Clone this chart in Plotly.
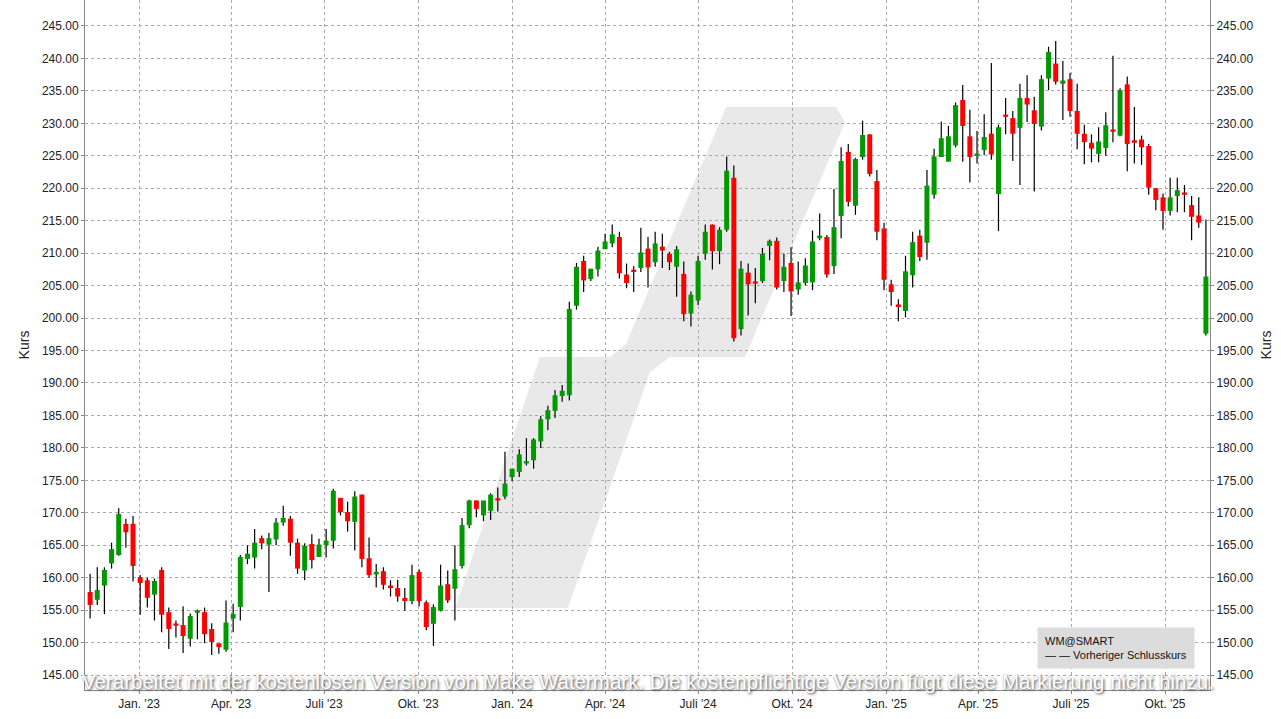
import pandas as pd
import plotly.graph_objects as go

# weekly candles (open, high, low, close)
opens = [157.8, 156.6, 158.8, 162.2, 163.5, 168.3, 168.3, 160.1, 159.6, 157.4,
         161.2, 154.7, 152.8, 152.7, 150.6, 154.6, 154.7, 152.1, 149.9, 148.9,
         153.7, 155.5, 162.9, 163.1, 166.1, 165.1, 165.9, 168.5, 169.1, 165.4,
         161.1, 165.2, 163.2, 165.0, 165.7, 172.3, 170.1, 168.6, 172.8, 163.0,
         160.5, 161.0, 158.8, 158.4, 156.9, 156.4, 160.9, 156.2, 152.9, 154.9,
         159.0, 158.3, 161.8, 168.1, 171.9, 169.6, 170.3, 172.2, 172.5, 175.5,
         176.3, 177.6, 178.1, 181.0, 184.4, 185.7, 188.0, 188.1, 201.9, 208.8,
         206.0, 207.5, 210.6, 211.5, 212.5, 206.7, 207.3, 207.7, 210.7, 208.6,
         211.0, 209.9, 207.9, 206.8, 200.7, 202.7, 209.9, 214.4, 210.3, 213.6,
         221.6, 198.3, 207.0, 205.6, 205.7, 211.1, 211.9, 205.7, 208.5, 204.4,
         205.4, 205.5, 212.3, 212.5, 208.0, 215.7, 225.6, 217.3, 224.8, 228.3,
         221.1, 213.8, 205.2, 202.1, 201.1, 206.6, 212.7, 211.6, 219.0, 224.8,
         224.1, 226.6, 233.6, 228.0, 225.0, 225.9, 228.4, 219.1, 231.3, 230.8,
         229.3, 233.9, 232.0, 229.5, 236.9, 239.2, 236.1, 236.8, 231.9, 228.4,
         227.0, 225.3, 226.2, 229.0, 228.1, 236.0, 227.4, 227.5, 226.5, 220.0,
         218.6, 216.5, 218.8, 219.2, 217.4, 215.8, 197.6]
closes = [155.8, 158.1, 161.2, 164.4, 169.8, 167.0, 161.8, 159.2, 156.9, 159.5,
          154.3, 152.1, 152.6, 151.0, 154.1, 154.8, 151.3, 150.1, 149.3, 153.1,
          154.4, 163.2, 163.7, 165.4, 165.3, 166.1, 168.5, 169.2, 165.4, 161.4,
          164.9, 162.7, 165.1, 165.7, 173.4, 170.1, 168.7, 172.5, 162.9, 160.4,
          160.9, 158.9, 158.4, 157.1, 156.4, 160.4, 156.4, 152.4, 155.5, 158.8,
          156.5, 161.3, 168.1, 171.9, 170.6, 171.9, 172.8, 171.9, 174.5, 176.8,
          179.0, 177.8, 181.3, 184.4, 185.8, 188.1, 188.8, 201.4, 207.9, 205.8,
          207.6, 210.4, 211.8, 212.9, 206.9, 205.4, 207.1, 210.1, 207.8, 211.5,
          210.4, 208.6, 210.6, 200.6, 203.6, 208.8, 213.3, 210.3, 213.6, 222.7,
          196.9, 207.6, 205.2, 205.3, 209.9, 211.9, 204.7, 207.9, 204.1, 205.5,
          208.1, 211.8, 212.7, 206.7, 214.0, 224.2, 217.9, 224.5, 228.2, 222.2,
          213.3, 205.9, 204.0, 201.7, 207.2, 211.7, 209.4, 220.4, 224.9, 227.7,
          228.0, 232.8, 229.6, 224.8, 225.1, 227.9, 225.2, 229.4, 231.0, 228.4,
          233.9, 232.9, 229.9, 236.8, 241.0, 236.4, 236.6, 231.9, 228.4, 227.1,
          226.1, 227.2, 229.7, 228.7, 235.1, 226.8, 227.0, 226.3, 220.1, 218.2,
          216.5, 218.6, 219.7, 219.0, 215.6, 214.7, 206.4]
highs = [160.6, 161.6, 161.6, 165.4, 170.7, 169.1, 169.5, 160.4, 160.0, 159.9,
         161.6, 155.4, 153.4, 155.6, 154.5, 155.1, 155.4, 153.0, 149.5, 156.5,
         156.0, 163.5, 165.0, 167.5, 166.5, 166.9, 169.2, 171.1, 169.5, 166.0,
         165.3, 166.7, 166.0, 167.5, 173.7, 172.3, 171.7, 173.3, 172.8, 166.2,
         162.1, 161.6, 159.6, 159.7, 158.4, 162.0, 161.3, 156.5, 155.9, 162.0,
         161.1, 165.0, 169.2, 172.0, 171.9, 170.5, 173.0, 173.9, 179.4, 176.7,
         179.8, 181.5, 181.5, 184.9, 186.5, 188.9, 189.7, 202.5, 208.5, 209.6,
         207.6, 211.0, 213.0, 214.4, 213.3, 208.4, 208.0, 213.9, 212.5, 213.3,
         213.0, 210.2, 211.1, 208.7, 204.1, 209.6, 214.4, 214.4, 214.0, 224.9,
         223.5, 208.8, 208.4, 207.7, 210.8, 212.1, 212.4, 209.9, 210.9, 208.7,
         209.2, 213.5, 216.1, 212.8, 219.9, 226.3, 226.8, 224.7, 230.4, 228.3,
         222.8, 214.7, 205.9, 202.9, 209.6, 213.3, 213.6, 222.8, 226.1, 230.3,
         229.6, 233.2, 235.9, 232.1, 228.8, 231.4, 239.3, 229.8, 233.9, 231.9,
         236.1, 237.4, 234.1, 237.4, 241.8, 242.7, 239.6, 237.8, 236.1, 229.8,
         228.3, 229.4, 231.7, 240.4, 235.4, 237.2, 232.5, 228.1, 226.8, 220.0,
         219.2, 221.6, 221.6, 220.5, 218.8, 218.6, 215.2]
lows = [153.7, 155.8, 154.4, 161.4, 163.4, 164.6, 159.4, 154.3, 155.4, 153.4,
        151.6, 149.0, 150.8, 148.4, 149.4, 150.5, 149.9, 148.1, 148.3, 148.6,
        151.6, 153.4, 162.1, 161.4, 164.4, 157.8, 165.0, 168.0, 163.4, 160.6,
        159.6, 161.4, 163.2, 163.1, 164.5, 169.6, 167.1, 164.2, 161.6, 160.0,
        158.5, 158.2, 157.1, 156.3, 154.9, 155.9, 155.6, 151.9, 149.5, 154.8,
        156.1, 153.4, 161.4, 167.6, 169.3, 168.7, 168.9, 170.2, 172.1, 174.9,
        175.5, 177.3, 176.8, 180.0, 182.7, 184.6, 187.1, 187.3, 201.3, 204.0,
        205.7, 206.4, 211.3, 210.9, 206.1, 204.6, 204.0, 207.1, 204.7, 207.9,
        207.7, 207.4, 203.3, 199.5, 198.7, 202.0, 209.0, 207.5, 208.3, 213.3,
        196.4, 197.3, 200.4, 202.3, 205.4, 208.9, 204.4, 204.0, 200.3, 203.6,
        205.0, 204.3, 212.0, 206.2, 206.8, 212.3, 217.2, 215.9, 224.4, 221.8,
        212.0, 204.3, 201.9, 199.5, 200.1, 204.7, 208.8, 209.0, 218.4, 226.3,
        224.1, 226.3, 224.1, 220.9, 223.8, 225.1, 224.4, 213.4, 228.3, 224.2,
        220.5, 230.2, 219.5, 228.9, 235.1, 236.0, 230.5, 231.0, 226.0, 223.7,
        224.0, 224.0, 225.0, 227.1, 228.0, 222.6, 223.8, 223.6, 219.0, 216.6,
        213.6, 215.8, 216.3, 216.3, 212.0, 213.9, 197.3]

dates = pd.date_range("2022-11-14", periods=len(opens), freq="7D")
tick_dates = ["2023-01-01", "2023-04-01", "2023-07-01", "2023-10-01",
              "2024-01-01", "2024-04-01", "2024-07-01", "2024-10-01",
              "2025-01-01", "2025-04-01", "2025-07-01", "2025-10-01"]
tick_text = ["Jan. '23", "Apr. '23", "Juli '23", "Okt. '23",
             "Jan. '24", "Apr. '24", "Juli '24", "Okt. '24",
             "Jan. '25", "Apr. '25", "Juli '25", "Okt. '25"]
price_ticks = [145 + 5 * i for i in range(21)]

GREEN = "#009900"
RED = "#ff0000"

# wicks as one black line with gaps
wx, wy = [], []
for d, h, l in zip(dates, highs, lows):
    wx += [d, d, None]
    wy += [l, h, None]

# bodies as thick segments drawn on top of the wicks
body = {GREEN: ([], []), RED: ([], [])}
for d, o, c in zip(dates, opens, closes):
    col = GREEN if c >= o else RED
    lo, hi = min(o, c), max(o, c)
    if hi - lo < 0.35:
        hi = lo + 0.35
    body[col][0].extend([d, d, None])
    body[col][1].extend([lo, hi, None])

fig = go.Figure()
fig.add_trace(go.Scatter(x=wx, y=wy, mode="lines",
                         line=dict(color="black", width=1.2), hoverinfo="skip"))
for col, (bx, by) in body.items():
    fig.add_trace(go.Scatter(x=bx, y=by, mode="lines",
                             line=dict(color=col, width=5), hoverinfo="skip"))
# invisible trace to carry the right-hand axis
fig.add_trace(go.Scatter(x=[dates[0]], y=[opens[0]], yaxis="y2",
                         mode="markers", marker_opacity=0, hoverinfo="skip"))

# light grey logo watermark behind the candles (pixel outline -> paper)
W, H, L = 1125.0, 690.0, 85.0
pts = [(455, 608), (568, 608), (650, 372), (670, 357), (745, 357),
       (845, 122), (836, 107), (726, 107), (626, 344), (610, 357),
       (540, 357)]
path = "M " + " L ".join(f"{(px - L) / W:.4f},{1 - py / H:.4f}" for px, py in pts) + " Z"
fig.add_shape(type="path", path=path, xref="paper", yref="paper",
              fillcolor="#e9e9e9", line_width=0, layer="below")

grid = dict(showgrid=True, gridcolor="#a8a8a8", griddash="dot", gridwidth=1)
yr = [142.7, 249.0]
fig.update_layout(
    width=1281, height=719,
    margin=dict(l=85, r=71, t=0, b=29),
    plot_bgcolor="white", paper_bgcolor="white",
    showlegend=False,
    font=dict(family="Liberation Sans, Arial", size=12, color="#222"),
    xaxis=dict(tickvals=tick_dates, ticktext=tick_text, ticks="outside",
               ticklen=3, tickcolor="#888", showline=True, linecolor="#888",
               range=["2022-11-09", "2025-11-14"], automargin=False, **grid),
    yaxis=dict(range=yr, tickvals=price_ticks,
               ticktext=[f"{v:.2f}" for v in price_ticks],
               title=dict(text="Kurs", standoff=8), ticks="outside", ticklen=3,
               tickcolor="#888", showline=True, linecolor="#888",
               automargin=False, **grid),
    yaxis2=dict(range=yr, overlaying="y", side="right", tickvals=price_ticks,
                ticktext=[f"{v:.2f}" for v in price_ticks], showgrid=False,
                title=dict(text="Kurs", standoff=8), ticks="outside", ticklen=3,
                tickcolor="#888", showline=True, linecolor="#888",
                automargin=False),
)

fig.add_annotation(xref="paper", yref="paper", x=0.846, y=0.03, xanchor="left",
                   yanchor="bottom", align="left", showarrow=False,
                   bgcolor="#dcdcdc", borderpad=7,
                   text="WM@SMART<br>— — Vorheriger Schlusskurs",
                   font=dict(size=11, color="#111"))
fig.add_annotation(xref="paper", yref="paper", x=0.5, y=0.013, yanchor="middle",
                   showarrow=False,
                   text="Verarbeitet mit der kostenlosen Version von Make Watermark. "
                        "Die kostenpflichtige Version fügt diese Markierung nicht hinzu.",
                   font=dict(size=20.5, color="white", shadow="1px 1px 3px #333"))

fig.write_html("out.html", config={"displayModeBar": False},
               post_script="document.body.style.margin='0';")
